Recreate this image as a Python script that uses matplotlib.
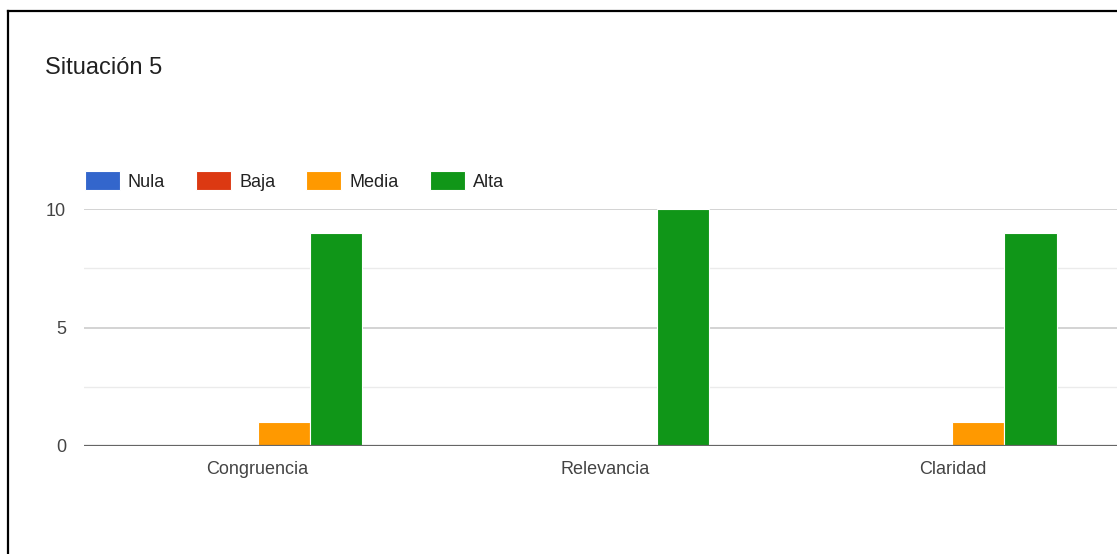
import numpy as np
import matplotlib
matplotlib.use("Agg")
import matplotlib.pyplot as plt
from matplotlib.lines import Line2D
from matplotlib.ticker import MultipleLocator

plt.rcParams['font.family'] = ['Liberation Sans', 'DejaVu Sans']

criterios = ["Congruencia", "Relevancia", "Claridad"]
niveles = ["Nula", "Baja", "Media", "Alta"]
nula = [0, 0, 0]
baja = [0, 0, 0]
media = [1, 0, 1]
alta = [9, 10, 9]
colores = ["#3366cc", "#dc3912", "#ff9900", "#109618"]

W, H = 1117, 554
fig = plt.figure(figsize=(W / 100, H / 100), dpi=100)
fig.patch.set_facecolor("white")

# zona del grafico (se sale un poco por la derecha)
ax = fig.add_axes([84 / W, 1 - 446 / H, (1126 - 84) / W, (446 - 209) / H])

x = np.arange(len(criterios))
ancho = 0.15
barras = []
for i, (serie, col) in enumerate(zip([nula, baja, media, alta], colores)):
    b = ax.bar(x + (i - 1.5) * ancho, serie, ancho, color=col,
               edgecolor="white", linewidth=0.8, label=niveles[i], zorder=3)
    barras.append(b)

ax.set_xlim(-0.5, 2.5)
ax.set_ylim(0, 10)
ax.yaxis.set_major_locator(MultipleLocator(5))
ax.yaxis.set_minor_locator(MultipleLocator(2.5))
ax.grid(which="major", axis="y", color="#cccccc", linewidth=1.2, zorder=0)
ax.grid(which="minor", axis="y", color="#ebebeb", linewidth=1.0, zorder=0)
ax.axhline(0, color="#666666", linewidth=1.6, zorder=4)
for s in ax.spines.values():
    s.set_visible(False)
ax.set_xticks(x)
ax.set_xticklabels(criterios)
ax.tick_params(axis="both", which="both", length=0, labelsize=13, labelcolor="#444444")
ax.tick_params(axis="y", pad=13)
ax.tick_params(axis="x", pad=11)

leg = fig.legend(handles=barras, labels=niveles, ncol=4, frameon=False,
                 loc="center left", bbox_to_anchor=(85 / W, 1 - 181 / H),
                 fontsize=13, handlelength=1.94, handleheight=1.2,
                 handletextpad=0.44, columnspacing=1.72, borderaxespad=0,
                 borderpad=0)
for t in leg.get_texts():
    t.set_color("#222222")

fig.text(45 / W, 1 - 68 / H, "Situación 5", fontsize=17, color="#212121",
         ha="left", va="center")

# marco negro de la captura
fig.add_artist(Line2D([8 / W, 8 / W], [0, 1 - 11 / H], color="black",
                      linewidth=1.6, transform=fig.transFigure))
fig.add_artist(Line2D([8 / W, 1], [1 - 11 / H, 1 - 11 / H], color="black",
                      linewidth=1.6, transform=fig.transFigure))

fig.savefig("out.png", dpi=100)
